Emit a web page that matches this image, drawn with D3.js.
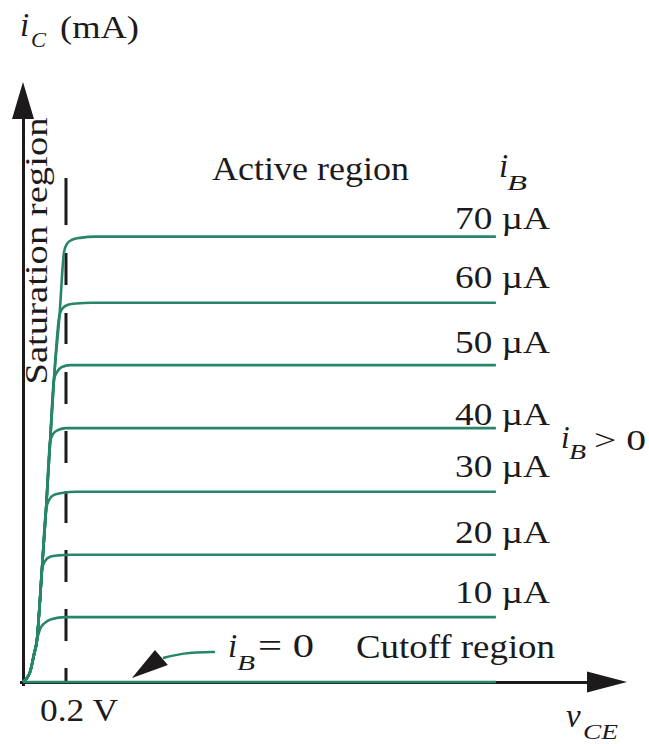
<!DOCTYPE html>
<html><head><meta charset="utf-8">
<script src="https://cdn.jsdelivr.net/npm/d3@7"></script>
<style>html,body{margin:0;padding:0;background:#fff;} svg{display:block;}</style>
</head><body><svg id="c" width="649" height="744"></svg>
<script>
// ---- data ----
const ibLabels = ["10 µA", "20 µA", "30 µA", "40 µA", "50 µA", "60 µA", "70 µA"];
const curve0  = [[0, 0], [2.2, 0]];
const curve10 = [[0,0],[0.033,0.16],[0.051,0.43],[0.065,0.66],[0.079,0.83],[0.102,0.93],[0.135,0.99],[0.195,1.02],[2.2,1.02]];
const curve20 = [[0,0],[0.033,0.16],[0.051,0.43],[0.065,0.66],[0.079,1.29],[0.088,1.76],[0.102,1.90],[0.126,1.97],[0.163,1.99],[0.228,2.0],[2.2,2.0]];
const curve30 = [[0,0],[0.033,0.16],[0.051,0.43],[0.065,0.66],[0.079,1.29],[0.088,1.76],[0.107,2.70],[0.121,2.86],[0.144,2.94],[0.181,2.97],[0.251,2.99],[2.2,2.99]];
const curve40 = [[0,0],[0.033,0.16],[0.051,0.43],[0.065,0.66],[0.079,1.29],[0.088,1.76],[0.107,2.70],[0.126,3.77],[0.140,3.90],[0.163,3.96],[0.200,3.99],[0.274,3.99],[2.2,3.99]];
const curve50 = [[0,0],[0.033,0.16],[0.051,0.43],[0.065,0.66],[0.079,1.29],[0.088,1.76],[0.107,2.70],[0.126,3.77],[0.144,4.75],[0.158,4.87],[0.181,4.95],[0.219,4.98],[0.293,4.98],[2.2,4.98]];
const curve60 = [[0,0],[0.033,0.16],[0.051,0.43],[0.065,0.66],[0.079,1.29],[0.088,1.76],[0.107,2.70],[0.126,3.77],[0.144,4.75],[0.170,5.77],[0.186,5.88],[0.209,5.93],[0.247,5.95],[0.321,5.96],[2.2,5.96]];
const curve70 = [[0,0],[0.033,0.16],[0.051,0.43],[0.065,0.66],[0.079,1.29],[0.088,1.76],[0.107,2.70],[0.126,3.77],[0.144,4.75],[0.170,5.77],[0.191,6.76],[0.205,6.89],[0.228,6.95],[0.265,6.98],[0.340,7.0],[2.2,7.0]];
const satVoltage = 0.2;          // dashed line position (V)
const satLineTop = 7.92;         // top of dashed line (mA)
const xMax = 2.81, yMax = 9.43;  // axis extents (arrow tips)
const cutoffArrow = [[0.893,0.472],[0.781,0.464],[0.707,0.425],[0.651,0.377]];
const cutoffHead = [[0.507,0.063],[0.614,0.503],[0.674,0.267]];

// ---- layout ----
const svg = d3.select("#c");
const x = d3.scaleLinear().domain([0, xMax]).range([23, 627]);
const y = d3.scaleLinear().domain([0, yMax]).range([682, 82]);
const green = "#27866a", ink = "#1c1a1a";
const serif = "'Liberation Serif','Times New Roman',serif";

// axes (no ticks, just the lines)
svg.append("g").attr("transform", `translate(0,${y(0)})`)
  .call(d3.axisBottom(x).tickValues([]).tickSizeOuter(0).scale(x.copy().range([21, 600])));
svg.append("g").attr("transform", `translate(${x(0)},0)`)
  .call(d3.axisLeft(y).tickValues([]).tickSizeOuter(0).scale(y.copy().range([684, 110])));
svg.selectAll(".domain").attr("stroke", ink).attr("stroke-width", 3).attr("stroke-linecap", "square");

// arrow heads
const xt = x(xMax), yt = y(yMax);
svg.append("path").attr("d", `M${xt},${y(0)}L${xt-40},${y(0)-10.5}L${xt-40},${y(0)+10.5}Z`).attr("fill", ink);
svg.append("path").attr("d", `M${x(0)},${yt}L${x(0)-11},${yt+37}L${x(0)+11},${yt+37}Z`).attr("fill", ink);

// dashed saturation line
svg.append("line")
  .attr("x1", x(satVoltage)).attr("x2", x(satVoltage))
  .attr("y1", y(0)).attr("y2", y(satLineTop))
  .attr("stroke", ink).attr("stroke-width", 3)
  .attr("stroke-dasharray", "14,27,32,27,32,27,32,28,32,27,32,28,31,28,32,28,47,20");

// curves
const line = d3.line().x(d => x(d[0])).y(d => y(d[1])).curve(d3.curveMonotoneX);
const curves = [curve0, curve10, curve20, curve30, curve40, curve50, curve60, curve70];
svg.append("g").selectAll("path").data(curves).join("path")
  .attr("d", line).attr("fill", "none").attr("stroke", green).attr("stroke-width", 2.6)
  .attr("stroke-linejoin", "round");

// cutoff annotation arrow
svg.append("path").attr("d", d3.line().x(d => x(d[0])).y(d => y(d[1])).curve(d3.curveBasis)(cutoffArrow))
  .attr("fill", "none").attr("stroke", green).attr("stroke-width", 2.4);
svg.append("path").attr("d", d3.line().x(d => x(d[0])).y(d => y(d[1]))(cutoffHead) + "Z").attr("fill", ink);

// text helper
function txt(px, py, s, size, opt = {}) {
  const t = svg.append("text").attr("x", px).attr("y", py).text(s)
    .attr("font-family", serif).attr("font-size", size).attr("fill", ink);
  if (opt.italic) t.attr("font-style", "italic");
  if (opt.len) t.attr("textLength", opt.len).attr("lengthAdjust", "spacingAndGlyphs");
  if (opt.anchor) t.attr("text-anchor", opt.anchor);
  if (opt.transform) t.attr("transform", opt.transform);
  return t;
}

// y-axis title
txt(20, 36, "i", 33, {italic: true});
txt(31, 47, "C", 22, {italic: true, len: 15});
txt(60, 38, "(mA)", 31, {len: 79});

// saturation region (rotated)
txt(0, 0, "Saturation region", 32, {anchor: "middle", len: 267, transform: "translate(47,251) rotate(-90)"});

// active region + iB header
txt(212, 180, "Active region", 33, {len: 197});
txt(499, 177, "i", 33, {italic: true});
txt(507, 190, "B", 22, {italic: true, len: 20});

// curve labels
const labelBaselines = [603, 543, 477, 425, 353, 288, 229];
ibLabels.forEach((s, k) => txt(455, labelBaselines[k], s, 32, {len: 95}));

// iB > 0
txt(561, 448, "i", 31, {italic: true});
txt(569, 459, "B", 20, {italic: true, len: 17});
txt(594, 450, "> 0", 30, {len: 52});

// cutoff
txt(356, 658, "Cutoff region", 33, {len: 199});
txt(228, 657, "i", 33, {italic: true});
txt(237, 670, "B", 22, {italic: true, len: 18});
txt(258, 657, "= 0", 33, {len: 56});

// x-axis labels
txt(40, 721, "0.2 V", 32, {len: 78});
txt(566, 727, "v", 33, {italic: true});
txt(583, 739, "CE", 21, {italic: true, len: 35});
</script></body></html>
